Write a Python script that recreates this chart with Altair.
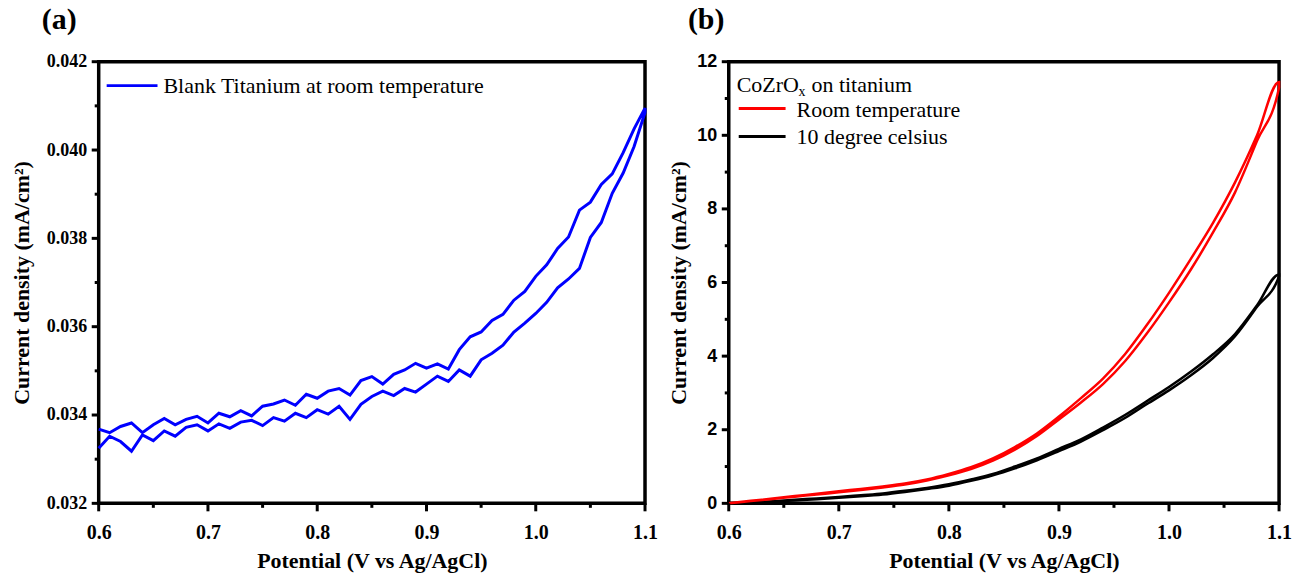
import altair as alt
import pandas as pd

# ---------------- data ----------------
# Panel (a): blank titanium, room temperature (two scan branches)
potential_a = [0.60, 0.61, 0.62, 0.63, 0.64, 0.65, 0.66, 0.67, 0.68, 0.69,
               0.70, 0.71, 0.72, 0.73, 0.74, 0.75, 0.76, 0.77, 0.78, 0.79,
               0.80, 0.81, 0.82, 0.83, 0.84, 0.85, 0.86, 0.87, 0.88, 0.89,
               0.90, 0.91, 0.92, 0.93, 0.94, 0.95, 0.96, 0.97, 0.98, 0.99,
               1.00, 1.01, 1.02, 1.03, 1.04, 1.05, 1.06, 1.07, 1.08, 1.09, 1.10]
j_branch1_a = [0.03325, 0.03352, 0.03340, 0.03318, 0.03355, 0.03342, 0.03364, 0.03352, 0.03372, 0.03378,
               0.03364, 0.03380, 0.03370, 0.03384, 0.03388, 0.03376, 0.03394, 0.03386, 0.03404, 0.03394,
               0.03412, 0.03402, 0.03420, 0.03390, 0.03424, 0.03442, 0.03454, 0.03444, 0.03460, 0.03452,
               0.03470, 0.03488, 0.03476, 0.03502, 0.03488, 0.03525, 0.03540, 0.03558, 0.03588, 0.03608,
               0.03630, 0.03655, 0.03688, 0.03708, 0.03732, 0.03802, 0.03836, 0.03902, 0.03948, 0.04008, 0.04085]
j_branch2_a = [0.03368, 0.03360, 0.03374, 0.03382, 0.03360, 0.03378, 0.03392, 0.03378, 0.03390, 0.03397,
               0.03382, 0.03404, 0.03396, 0.03410, 0.03398, 0.03420, 0.03425, 0.03434, 0.03422, 0.03447,
               0.03438, 0.03454, 0.03460, 0.03445, 0.03478, 0.03487, 0.03470, 0.03492, 0.03502, 0.03517,
               0.03506, 0.03516, 0.03504, 0.03548, 0.03577, 0.03588, 0.03614, 0.03628, 0.03660, 0.03680,
               0.03714, 0.03740, 0.03777, 0.03803, 0.03864, 0.03882, 0.03922, 0.03946, 0.03994, 0.04048, 0.04095]

# Panel (b): CoZrOx on titanium
potential_b = [0.60, 0.62, 0.64, 0.66, 0.68, 0.70, 0.72, 0.74, 0.76, 0.78, 0.80, 0.82, 0.84,
               0.86, 0.88, 0.90, 0.92, 0.94, 0.96, 0.98, 1.00, 1.02, 1.04, 1.06, 1.08, 1.10]
rt_branch1 = [0.00, 0.07, 0.13, 0.20, 0.26, 0.33, 0.39, 0.46, 0.54, 0.65, 0.80, 0.98, 1.22,
              1.53, 1.90, 2.36, 2.86, 3.39, 4.05, 4.85, 5.72, 6.65, 7.62, 8.72, 10.00, 11.45]
rt_branch2 = [0.00, 0.06, 0.12, 0.18, 0.24, 0.30, 0.36, 0.43, 0.51, 0.62, 0.76, 0.93, 1.16,
              1.46, 1.83, 2.28, 2.74, 3.24, 3.86, 4.62, 5.46, 6.36, 7.36, 8.45, 9.85, 11.30]
cold_branch1 = [0.00, 0.03, 0.06, 0.10, 0.13, 0.17, 0.22, 0.27, 0.34, 0.42, 0.52, 0.65, 0.80,
                1.00, 1.22, 1.48, 1.74, 2.06, 2.40, 2.78, 3.16, 3.58, 4.05, 4.60, 5.38, 6.22]
cold_branch2 = [0.00, 0.02, 0.05, 0.08, 0.11, 0.15, 0.19, 0.24, 0.31, 0.39, 0.48, 0.61, 0.76,
                0.95, 1.17, 1.42, 1.68, 1.99, 2.32, 2.70, 3.07, 3.48, 3.95, 4.54, 5.34, 6.17]

# tick values
x_major = [0.6, 0.7, 0.8, 0.9, 1.0, 1.1]
x_minor = [0.65, 0.75, 0.85, 0.95, 1.05]
ya_major = [0.032, 0.034, 0.036, 0.038, 0.040, 0.042]
ya_minor = [0.033, 0.035, 0.037, 0.039, 0.041]
yb_major = [0, 2, 4, 6, 8, 10, 12]
yb_minor = [1, 3, 5, 7, 9, 11]

SERIF = "Liberation Serif"
SANS = "Liberation Sans"


def x_axis():
    return alt.Axis(
        values=x_major, format=".1f", title="Potential (V vs Ag/AgCl)", grid=False, domain=False,
        ticks=False, labelFont=SERIF, labelFontSize=20, labelFontWeight="bold", labelColor="black",
        labelPadding=19, labelFlush=False, labelOverlap=False,
        titleFont=SERIF, titleFontSize=22, titleFontWeight="bold", titleColor="black",
        titlePadding=8)


def y_axis(values, fmt, font, pad):
    return alt.Axis(
        values=values, format=fmt, title="Current density (mA/cm²)", grid=False, domain=False,
        ticks=False, labelFont=font, labelFontSize=18, labelFontWeight="bold", labelColor="black",
        labelPadding=12, labelFlush=False, labelOverlap=False,
        titleFont=SERIF, titleFontSize=22, titleFontWeight="bold", titleColor="black",
        titlePadding=pad)


def tick_marks(xs, ys, height, xsets, ysets):
    layers = []
    for vals, length in xsets:
        layers.append(alt.Chart(pd.DataFrame({"V": vals})).mark_rule(
            color="black", strokeWidth=3, clip=False).encode(
            x=alt.X("V:Q", scale=xs),
            y=alt.value(height), y2=alt.value(height + length)))
    for vals, length in ysets:
        layers.append(alt.Chart(pd.DataFrame({"J": vals})).mark_rule(
            color="black", strokeWidth=3, clip=False).encode(
            y=alt.Y("J:Q", scale=ys),
            x=alt.value(-length), x2=alt.value(0)))
    return layers


one = pd.DataFrame({"k": [0]})
H = 443

# ---------------- panel (a) ----------------
n_a = len(potential_a)
df_a = pd.DataFrame({
    "V": potential_a + potential_a[::-1],
    "J": j_branch1_a + j_branch2_a[::-1],
    "k": list(range(2 * n_a)),
})
xs_a = alt.Scale(domain=[0.6, 1.1], nice=False, zero=False)
ys_a = alt.Scale(domain=[0.032, 0.042], nice=False, zero=False)

line_a = alt.Chart(df_a).mark_line(color="#0000FF", strokeWidth=3).encode(
    x=alt.X("V:Q", scale=xs_a, axis=x_axis()),
    y=alt.Y("J:Q", scale=ys_a, axis=y_axis(ya_major, ".3f", SERIF, 13)),
    order="k:Q",
)
leg_line_a = alt.Chart(one).mark_rule(color="#0000FF", strokeWidth=3).encode(
    x=alt.value(8), x2=alt.value(59), y=alt.value(24))
leg_text_a = alt.Chart(one).mark_text(
    text="Blank Titanium at room temperature", align="left", baseline="middle",
    font=SERIF, fontSize=22, color="black").encode(x=alt.value(65), y=alt.value(24))

panel_a = alt.layer(
    line_a,
    *tick_marks(xs_a, ys_a, H, [(x_major, 8), (x_minor, 4.5)], [(ya_major, 7), (ya_minor, 4)]),
    leg_line_a, leg_text_a).properties(
    width=548, height=H,
    title=alt.TitleParams("(a)", anchor="start", frame="group", dx=-57, offset=18,
                          font=SERIF, fontSize=30, fontWeight="bold", color="black"))

# ---------------- panel (b) ----------------
n_b = len(potential_b)
df_rt = pd.DataFrame({
    "V": potential_b + potential_b[::-1],
    "J": rt_branch1 + rt_branch2[::-1],
    "k": list(range(2 * n_b)),
})
df_cold = pd.DataFrame({
    "V": potential_b + potential_b[::-1],
    "J": cold_branch1 + cold_branch2[::-1],
    "k": list(range(2 * n_b)),
})
xs_b = alt.Scale(domain=[0.6, 1.1], nice=False, zero=False)
ys_b = alt.Scale(domain=[0, 12], nice=False, zero=False)

cold_line = alt.Chart(df_cold).mark_line(color="black", strokeWidth=2.5, interpolate="monotone").encode(
    x=alt.X("V:Q", scale=xs_b, axis=x_axis()),
    y=alt.Y("J:Q", scale=ys_b, axis=y_axis(yb_major, "d", SANS, 6)),
    order="k:Q",
)
rt_line = alt.Chart(df_rt).mark_line(color="#FF0000", strokeWidth=2.5, interpolate="monotone").encode(
    x=alt.X("V:Q", scale=xs_b),
    y=alt.Y("J:Q", scale=ys_b),
    order="k:Q",
)

leg_title_b = alt.Chart(one).mark_text(
    text="CoZrO", align="left", baseline="middle", font=SERIF, fontSize=22, color="black"
).encode(x=alt.value(8), y=alt.value(23))
leg_sub_b = alt.Chart(one).mark_text(
    text="x", align="left", baseline="middle", font=SERIF, fontSize=14, color="black"
).encode(x=alt.value(70), y=alt.value(30))
leg_title2_b = alt.Chart(one).mark_text(
    text="on titanium", align="left", baseline="middle", font=SERIF, fontSize=22, color="black"
).encode(x=alt.value(83), y=alt.value(23))
leg_line_rt = alt.Chart(one).mark_rule(color="#FF0000", strokeWidth=3).encode(
    x=alt.value(10), x2=alt.value(57), y=alt.value(47))
leg_text_rt = alt.Chart(one).mark_text(
    text="Room temperature", align="left", baseline="middle", font=SERIF, fontSize=22, color="black"
).encode(x=alt.value(68), y=alt.value(48))
leg_line_cold = alt.Chart(one).mark_rule(color="black", strokeWidth=3).encode(
    x=alt.value(10), x2=alt.value(57), y=alt.value(75))
leg_text_cold = alt.Chart(one).mark_text(
    text="10 degree celsius", align="left", baseline="middle", font=SERIF, fontSize=22, color="black"
).encode(x=alt.value(68), y=alt.value(76))

panel_b = alt.layer(
    cold_line, rt_line,
    *tick_marks(xs_b, ys_b, H, [(x_major, 8), (x_minor, 4.5)], [(yb_major, 7), (yb_minor, 4)]),
    leg_title_b, leg_sub_b, leg_title2_b,
    leg_line_rt, leg_text_rt, leg_line_cold, leg_text_cold
).properties(
    width=552, height=H,
    title=alt.TitleParams("(b)", anchor="start", frame="group", dx=-41, offset=18,
                          font=SERIF, fontSize=30, fontWeight="bold", color="black"))

chart = alt.hconcat(panel_a, panel_b, spacing=6).properties(
    padding={"left": 8, "top": 2, "right": 5, "bottom": 5}
).configure_view(stroke="black", strokeWidth=3.5)

chart.save("out.html", embed_options={"renderer": "svg", "actions": False})
